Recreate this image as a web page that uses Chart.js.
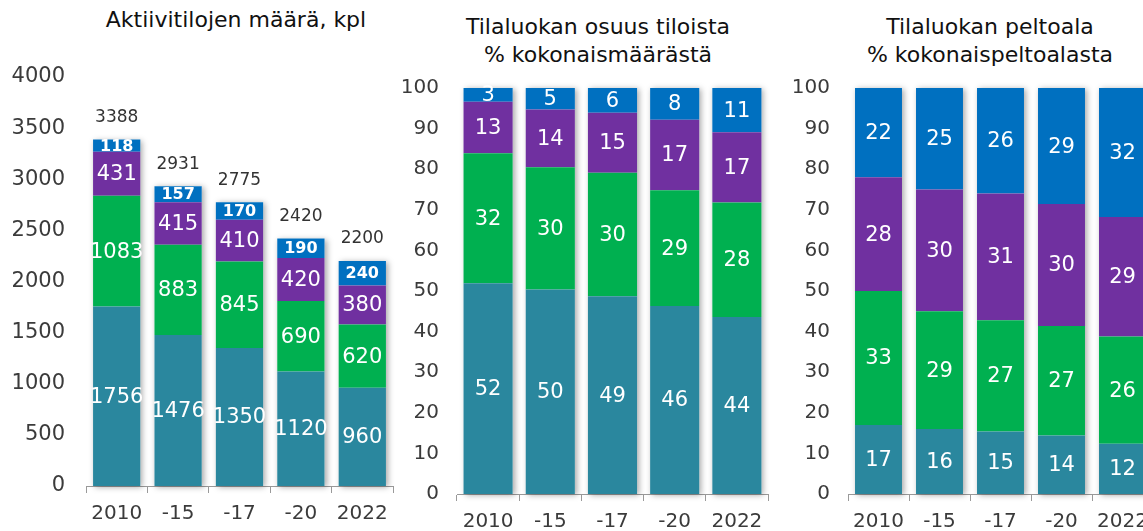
<!DOCTYPE html>
<html>
<head>
<meta charset="utf-8">
<script src="https://cdn.jsdelivr.net/npm/chart.js@4/dist/chart.umd.min.js"></script>
<style>
  html, body { margin:0; padding:0; width:1143px; height:531px; overflow:hidden; background:#fff; }
  .cv { position:absolute; top:0; }
  .title { position:absolute; font-family:'DejaVu Sans', Verdana, sans-serif; color:#111; font-size:22px; line-height:28px; text-align:center; white-space:nowrap; transform:translateX(-50%); }
</style>
</head>
<body>
<div class="title" style="left:236px; top:6px;">Aktiivitilojen määrä, kpl</div>
<div class="title" style="left:598px; top:13px;">Tilaluokan osuus tiloista<br>% kokonaismäärästä</div>
<div class="title" style="left:990px; top:13px;">Tilaluokan peltoala<br>% kokonaispeltoalasta</div>
<div class="cv" style="left:0px; width:400px; height:531px;"><canvas id="c1"></canvas></div>
<div class="cv" style="left:390px; width:385px; height:531px;"><canvas id="c2"></canvas></div>
<div class="cv" style="left:780px; width:380px; height:531px;"><canvas id="c3"></canvas></div>
<script>
// ---- data ----
const categories = ['2010', '-15', '-17', '-20', '2022'];

// Chart 1: number of active farms (kpl)
const count1 = [1756, 1476, 1350, 1120, 960];
const count2 = [1083, 883, 845, 690, 620];
const count3 = [431, 415, 410, 420, 380];
const count4 = [118, 157, 170, 190, 240];
const countTotals = [3388, 2931, 2775, 2420, 2200];

// Chart 2: share of farms, % of total number
const share1 = [51.9, 50.4, 48.7, 46.3, 43.6];
const share2 = [32.0, 30.1, 30.4, 28.5, 28.2];
const share3 = [12.7, 14.2, 14.8, 17.4, 17.3];
const share4 = [3.4, 5.3, 6.1, 7.8, 10.9];

// Chart 3: field area, % of total field area
const area1 = [17.0, 16.0, 15.4, 14.4, 12.4];
const area2 = [33.0, 29.0, 27.4, 27.0, 26.4];
const area3 = [28.0, 30.0, 31.2, 30.0, 29.4];
const area4 = [22.0, 25.0, 26.0, 28.6, 31.8];

const yTicks1 = { min: 0, max: 4000, step: 500 };
const yTicksPct = { min: 0, max: 100, step: 10 };

// ---- styles ----
const colors = ['#2A879E', '#00B050', '#7030A0', '#0070C0'];
const FONT = "'DejaVu Sans', Verdana, sans-serif";

const shadowPlugin = {
  id: 'barShadow',
  beforeDatasetsDraw(chart) {
    const ctx = chart.ctx;
    const metas = chart.data.datasets.map((d, i) => chart.getDatasetMeta(i));
    const n = chart.data.labels.length;
    ctx.save();
    ctx.shadowColor = 'rgba(0,0,0,0.35)';
    ctx.shadowBlur = 6;
    ctx.shadowOffsetX = 2;
    ctx.shadowOffsetY = 1;
    ctx.fillStyle = '#ffffff';
    for (let i = 0; i < n; i++) {
      let top = Infinity, bottom = -Infinity, x = 0, w = 0;
      metas.forEach(m => {
        const el = m.data[i];
        top = Math.min(top, el.y, el.base);
        bottom = Math.max(bottom, el.y, el.base);
        x = el.x; w = el.width;
      });
      ctx.fillRect(x - w / 2, top, w, bottom - top);
    }
    ctx.restore();
  }
};

const labelPlugin = {
  id: 'segLabels',
  afterDatasetsDraw(chart, args, opts) {
    const ctx = chart.ctx;
    ctx.save();
    ctx.textAlign = 'center';
    ctx.textBaseline = 'middle';
    chart.data.datasets.forEach((ds, di) => {
      const meta = chart.getDatasetMeta(di);
      ctx.font = opts.fonts[di];
      ctx.fillStyle = '#ffffff';
      meta.data.forEach((el, i) => {
        const v = ds.data[i];
        ctx.fillText(String(Math.round(v)), el.x, (el.y + el.base) / 2 + 1);
      });
    });
    if (opts.totals) {
      ctx.font = opts.totalFont;
      ctx.fillStyle = '#333333';
      const n = chart.data.labels.length;
      for (let i = 0; i < n; i++) {
        let top = Infinity, x = 0;
        chart.data.datasets.forEach((ds, di) => {
          const el = chart.getDatasetMeta(di).data[i];
          top = Math.min(top, el.y);
          x = el.x;
        });
        ctx.fillText(String(opts.totals[i]), x, top - 22);
      }
    }
    ctx.restore();
  }
};

function makeChart(id, series, yt, cfg) {
  const datasets = series.map((arr, i) => ({
    label: 'Luokka ' + (i + 1),
    data: arr,
    backgroundColor: colors[i],
    borderWidth: 0,
    categoryPercentage: 1.0,
    barPercentage: cfg.barPct
  }));
  return new Chart(document.getElementById(id), {
    type: 'bar',
    data: { labels: categories, datasets },
    options: {
      responsive: true,
      maintainAspectRatio: false,
      animation: false,
      layout: { padding: { top: cfg.top, right: cfg.right, left: 0, bottom: 0 } },
      plugins: {
        legend: { display: false },
        tooltip: { enabled: false },
        title: { display: false },
        segLabels: { fonts: cfg.labelFonts, totals: cfg.totals, totalFont: '17px ' + FONT }
      },
      scales: {
        x: {
          stacked: true,
          offset: true,
          grid: { display: true, drawOnChartArea: false, offset: true, color: '#9a9a9a', tickLength: 7, lineWidth: 1 },
          border: { display: true, color: '#9a9a9a', width: 1 },
          ticks: { color: '#3b3b3b', font: { family: FONT, size: 20 }, padding: 9, maxRotation: 0, autoSkip: false },
          afterFit: s => { s.height = cfg.xh; }
        },
        y: {
          stacked: true,
          min: yt.min, max: yt.max,
          grid: { display: false, drawTicks: false },
          border: { display: false },
          ticks: { stepSize: yt.step, color: '#3b3b3b', font: { family: FONT, size: cfg.ytSize }, padding: cfg.ypad,
                   callback: v => String(v) },
          afterFit: s => { s.width = cfg.yw; }
        }
      }
    },
    plugins: [shadowPlugin, labelPlugin]
  });
}

const segFont = '21px ' + FONT;
makeChart('c1', [count1, count2, count3, count4], yTicks1, {
  top: 77, right: 7, xh: 45, yw: 86, ypad: 21, ytSize: 21, barPct: 0.77,
  labelFonts: [segFont, segFont, segFont, 'bold 16px ' + FONT],
  totals: countTotals
});
makeChart('c2', [share1, share2, share3, share4], yTicksPct, {
  top: 88, right: 7, xh: 37, yw: 67, ypad: 18, ytSize: 20, barPct: 0.79,
  labelFonts: [segFont, segFont, segFont, segFont]
});
makeChart('c3', [area1, area2, area3, area4], yTicksPct, {
  top: 88, right: 7, xh: 37, yw: 68, ypad: 18, ytSize: 20, barPct: 0.77,
  labelFonts: [segFont, segFont, segFont, segFont]
});
</script>
</body>
</html>
